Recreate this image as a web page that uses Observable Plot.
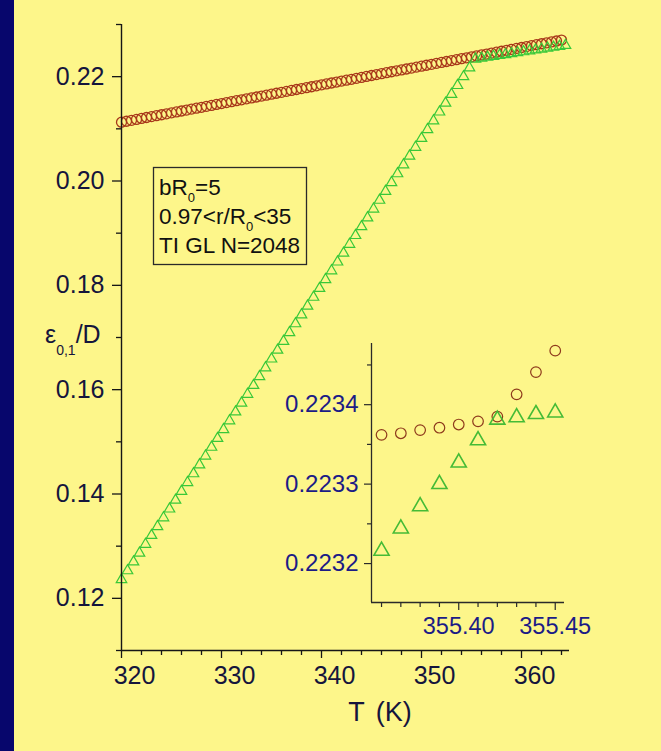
<!DOCTYPE html>
<html>
<head>
<meta charset="utf-8">
<script src="https://cdn.jsdelivr.net/npm/d3@7"></script>
<script src="https://cdn.jsdelivr.net/npm/@observablehq/plot@0.6"></script>
<style>
  html, body { margin: 0; padding: 0; background: #fdf68a; }
  #wrap { position: relative; width: 661px; height: 751px; background: #fdf68a; overflow: hidden; }
  #stripe { position: absolute; left: 0; top: 0; width: 14px; height: 751px; background: #07066c; }
  #wrap svg { position: absolute; left: 0; top: 0; }
</style>
</head>
<body>
<div id="wrap"><div id="stripe"></div></div>
<script>
// ---------- main chart data ----------
const circleT = [
  320,320.5,321,321.5,322,322.5,323,323.5,324,324.5,
  325,325.5,326,326.5,327,327.5,328,328.5,329,329.5,
  330,330.5,331,331.5,332,332.5,333,333.5,334,334.5,
  335,335.5,336,336.5,337,337.5,338,338.5,339,339.5,
  340,340.5,341,341.5,342,342.5,343,343.5,344,344.5,
  345,345.5,346,346.5,347,347.5,348,348.5,349,349.5,
  350,350.5,351,351.5,352,352.5,353,353.5,354,354.5,
  355,355.5,356,356.5,357,357.5,358,358.5,359,359.5,
  360,360.5,361,361.5,362,362.5,363,363.5,364
];
const circleV = [
  0.21127,0.21145,0.21163,0.21181,0.21199,0.21217,0.21234,0.21252,0.21270,0.21288,
  0.21306,0.21324,0.21342,0.21360,0.21378,0.21396,0.21413,0.21431,0.21449,0.21467,
  0.21485,0.21503,0.21521,0.21539,0.21557,0.21575,0.21592,0.21610,0.21628,0.21646,
  0.21664,0.21682,0.21700,0.21718,0.21736,0.21754,0.21771,0.21789,0.21807,0.21825,
  0.21843,0.21861,0.21879,0.21897,0.21915,0.21933,0.21950,0.21968,0.21986,0.22004,
  0.22022,0.22040,0.22058,0.22076,0.22094,0.22112,0.22129,0.22147,0.22165,0.22183,
  0.22201,0.22219,0.22237,0.22255,0.22273,0.22291,0.22308,0.22326,0.22344,0.22362,
  0.22380,0.22398,0.22416,0.22434,0.22452,0.22470,0.22487,0.22505,0.22523,0.22541,
  0.22559,0.22577,0.22595,0.22613,0.22631,0.22649,0.22666,0.22684,0.22702
];
const triT = [
  320,320.6,321.2,321.8,322.4,323,323.6,324.2,324.8,325.4,
  326,326.6,327.2,327.8,328.4,329,329.6,330.2,330.8,331.4,
  332,332.6,333.2,333.8,334.4,335,335.6,336.2,336.8,337.4,
  338,338.6,339.2,339.8,340.4,341,341.6,342.2,342.8,343.4,
  344,344.6,345.2,345.8,346.4,347,347.6,348.2,348.8,349.4,
  350,350.6,351.2,351.8,352.4,353,353.6,354.2,354.8,355.4,
  356,356.6,357.2,357.8,358.4,359,359.6,360.2,360.8,361.4,
  362,362.6,363.2,363.8,364.4
];
const triV = [
  0.12360,0.12529,0.12698,0.12867,0.13036,0.13206,0.13375,0.13544,0.13713,0.13882,
  0.14051,0.14220,0.14389,0.14559,0.14728,0.14897,0.15066,0.15235,0.15404,0.15573,
  0.15742,0.15912,0.16081,0.16250,0.16419,0.16588,0.16757,0.16926,0.17095,0.17264,
  0.17434,0.17603,0.17772,0.17941,0.18110,0.18279,0.18448,0.18617,0.18787,0.18956,
  0.19125,0.19294,0.19463,0.19632,0.19801,0.19970,0.20140,0.20309,0.20478,0.20647,
  0.20816,0.20985,0.21154,0.21323,0.21492,0.21662,0.21831,0.22000,0.22169,0.22338,
  0.22355,0.22373,0.22390,0.22408,0.22425,0.22443,0.22460,0.22478,0.22495,0.22513,
  0.22530,0.22548,0.22565,0.22583,0.22600
];
const xMajor = [320, 330, 340, 350, 360];
const xMinor = [322, 324, 326, 328, 332, 334, 336, 338, 342, 344, 346, 348, 352, 354, 356, 358, 362, 364];
const yMajor = [0.12, 0.14, 0.16, 0.18, 0.20, 0.22];
const yMinor = [0.11, 0.13, 0.15, 0.17, 0.19, 0.21, 0.23];

// ---------- inset data ----------
const insetT = [355.36,355.37,355.38,355.39,355.40,355.41,355.42,355.43,355.44,355.45];
const insetCircleV = [0.223362,0.223364,0.223368,0.223371,0.223375,0.223379,0.223385,0.223413,0.223441,0.223468];
const insetTriV = [0.223216,0.223244,0.223272,0.223300,0.223327,0.223355,0.223381,0.223384,0.223388,0.223390];
const insetXMajor = [355.40, 355.45];
const insetXMinor = [355.36,355.37,355.38,355.39,355.41,355.42,355.43,355.44];
const insetYMajor = [0.2232, 0.2233, 0.2234];
const insetYMinor = [0.22325, 0.22335, 0.22345];

// ---------- annotations ----------
const legendLines = ["bR|0|=5", "0.97<r/R|0|<35", "TI GL N=2048"];
const xLabel = "T (K)";

const FONT = "'Liberation Sans', Arial, Helvetica, sans-serif";
const TXT = "#15153c";
const INSET_TXT = "#1c1c86";
const AX = "#161616";
const CIRC = "#a8381a";
const TRI = "#38c838";

const circles = circleT.map((T, i) => ({T, v: circleV[i]}));
const tris = triT.map((T, i) => ({T, v: triV[i]}));
const iCircles = insetT.map((T, i) => ({T, v: insetCircleV[i]}));
const iTris = insetT.map((T, i) => ({T, v: insetTriV[i]}));

const wrap = document.getElementById("wrap");

const main = Plot.plot({
  width: 661, height: 751,
  marginLeft: 121, marginRight: 92, marginTop: 24, marginBottom: 101,
  style: {background: "transparent", fontFamily: FONT, color: TXT, overflow: "visible"},
  x: {domain: [320, 364.8]},
  y: {domain: [0.11, 0.23]},
  marks: [
    Plot.dot(circles, {x: "T", y: "v", r: 5, symbol: "circle", stroke: CIRC, strokeWidth: 1.3, fill: "none"}),
    Plot.dot(tris, {x: "T", y: "v", r: 3.9, symbol: "triangle", stroke: TRI, strokeWidth: 1.2, fill: "none"}),
    Plot.ruleY([0.11], {stroke: AX, strokeWidth: 1.4}),
    Plot.ruleX([320], {stroke: AX, strokeWidth: 1.4}),
    Plot.axisX({ticks: xMinor, tickSize: 5, fill: "none", stroke: AX, strokeWidth: 1.3, label: null}),
    Plot.axisX({ticks: xMajor, tickSize: 8, fill: "none", stroke: AX, strokeWidth: 1.3, label: null}),
    Plot.axisX({ticks: xMajor, tickSize: 0, tickPadding: 16, dx: 13, tickFormat: d => String(d), fill: TXT, fontSize: 25, label: null}),
    Plot.axisY({ticks: yMinor, tickSize: 5, fill: "none", stroke: AX, strokeWidth: 1.3, label: null}),
    Plot.axisY({ticks: yMajor, tickSize: 9, tickPadding: 8, tickFormat: d3.format(".2f"), fill: TXT, stroke: AX, strokeWidth: 1.3, fontSize: 25, label: null})
  ]
});
wrap.appendChild(main);

const inset = Plot.plot({
  width: 661, height: 751,
  marginLeft: 371, marginRight: 97, marginTop: 343, marginBottom: 149,
  style: {background: "transparent", fontFamily: FONT, color: INSET_TXT, overflow: "visible"},
  x: {domain: [355.3548, 355.4548]},
  y: {domain: [0.223151, 0.223477]},
  marks: [
    Plot.ruleY([0.223151], {stroke: "#2a2a2a", strokeWidth: 1.3}),
    Plot.ruleX([355.3548], {stroke: "#2a2a2a", strokeWidth: 1.3}),
    Plot.axisX({ticks: insetXMinor, tickSize: 5, fill: "none", stroke: "#2a2a2a", strokeWidth: 1.2, label: null}),
    Plot.axisX({ticks: insetXMajor, tickSize: 8, tickPadding: 7, tickFormat: d3.format(".2f"), fill: INSET_TXT, stroke: "#2a2a2a", strokeWidth: 1.2, fontSize: 23.5, label: null}),
    Plot.axisY({ticks: insetYMinor, tickSize: 4, fill: "none", stroke: "#2a2a2a", strokeWidth: 1.2, label: null}),
    Plot.axisY({ticks: insetYMajor, tickSize: 7, tickPadding: 6, tickFormat: d3.format(".4f"), fill: INSET_TXT, stroke: "#2a2a2a", strokeWidth: 1.2, fontSize: 24, label: null}),
    Plot.dot(iCircles, {x: "T", y: "v", r: 5.3, symbol: "circle", stroke: "#8e3a1c", strokeWidth: 1.2, fill: "none"}),
    Plot.dot(iTris, {x: "T", y: "v", r: 5.6, symbol: "triangle", stroke: "#45bb36", strokeWidth: 1.6, fill: "none"})
  ]
});
wrap.appendChild(inset);

// ---------- annotation layer (legend box, axis titles) ----------
const ann = d3.create("svg")
  .attr("width", 661).attr("height", 751)
  .style("font-family", FONT);

// legend box
ann.append("rect")
  .attr("x", 153.5).attr("y", 167.5).attr("width", 153).attr("height", 97)
  .attr("fill", "none").attr("stroke", "#2a2a2a").attr("stroke-width", 1.3);
const baselines = [195, 223.5, 253];
legendLines.forEach((line, i) => {
  const parts = line.split("|");
  const t = ann.append("text").attr("x", 159).attr("y", baselines[i])
    .attr("fill", "#111").attr("font-size", 22.5);
  parts.forEach((p, j) => {
    if (j % 2 === 1) {
      t.append("tspan").attr("font-size", 13).attr("dy", 7).text(p);
    } else {
      const ts = t.append("tspan").text(p);
      if (j > 0) ts.attr("dy", -7);
    }
  });
});

// y axis title: ε_{0,1}/D
const yl = ann.append("text").attr("x", 45).attr("y", 343).attr("fill", TXT).attr("font-size", 25);
yl.append("tspan").text("ε");
yl.append("tspan").attr("font-size", 14).attr("dy", 12).text("0,1");
yl.append("tspan").attr("dy", -12).text("/D");

// x axis title
ann.append("text").attr("x", 380).attr("y", 721).attr("text-anchor", "middle")
  .attr("fill", TXT).attr("font-size", 27).style("word-spacing", "4px").text(xLabel);

wrap.appendChild(ann.node());
</script>
</body>
</html>
